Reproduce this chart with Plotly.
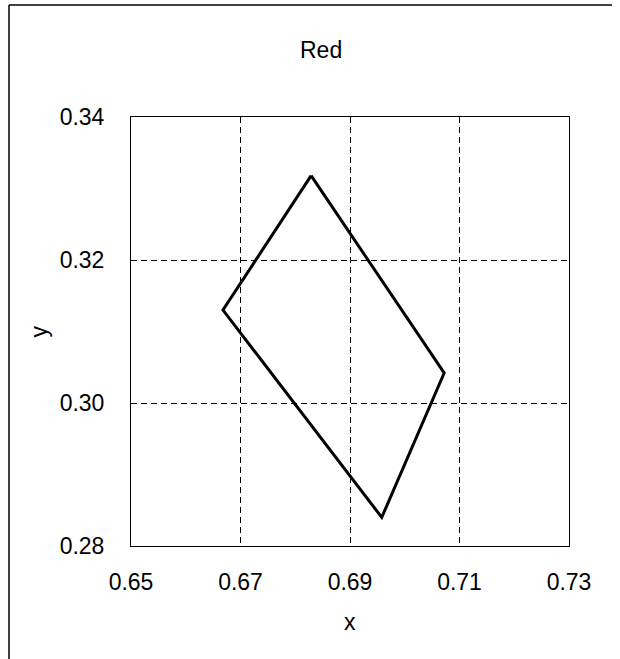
import plotly.graph_objects as go

# Data (vertices in drawing order: top, right, bottom, left, back to top)
poly_x = [0.6829, 0.7072, 0.6958, 0.6668, 0.6829]
poly_y = [0.3318, 0.3042, 0.2840, 0.3130, 0.3318]
x_ticks = [0.65, 0.67, 0.69, 0.71, 0.73]
y_ticks = [0.28, 0.30, 0.32, 0.34]
title_text = "Red"

W, H = 620, 659
L, R, T, B = 131, 51, 117, 113
pw, ph = W - L - R, H - T - B

def px(x):
    return (x - L) / pw

def py(y):
    return (H - B - y) / ph

fig = go.Figure()
fig.add_trace(go.Scatter(x=poly_x, y=poly_y, mode="lines",
                         line=dict(color="black", width=3), showlegend=False,
                         hoverinfo="skip"))

font = "Liberation Sans, Arial, sans-serif"
axis_common = dict(showgrid=True, gridcolor="black", gridwidth=1, griddash="6px,4px",
                   showline=True, linecolor="black", linewidth=1, mirror=True,
                   zeroline=False, ticks="outside",
                   tickcolor="rgba(0,0,0,0)",
                   tickfont=dict(family=font, size=23, color="black"))

fig.update_xaxes(range=[0.65, 0.73], tickvals=x_ticks, ticklen=15,
                 ticktext=[f"{v:.2f}" for v in x_ticks], **axis_common)
fig.update_yaxes(range=[0.28, 0.34], tickvals=y_ticks, ticklen=21,
                 ticktext=[f"{v:.2f}" for v in y_ticks], **axis_common)

fig.update_layout(
    width=W, height=H, margin=dict(l=L, r=R, t=T, b=B, autoexpand=False),
    plot_bgcolor="white", paper_bgcolor="white",
    annotations=[
        dict(text=title_text, x=px(321), y=py(50), xref="paper", yref="paper",
             xanchor="center", yanchor="middle",
             showarrow=False, font=dict(family=font, size=23, color="black")),
        dict(text="x", x=0.5, y=py(622), xref="paper", yref="paper",
             xanchor="center", yanchor="middle",
             showarrow=False, font=dict(family=font, size=23, color="black")),
        dict(text="y", x=px(38), y=0.5, xref="paper", yref="paper", textangle=-90,
             xanchor="center", yanchor="middle",
             showarrow=False, font=dict(family=font, size=23, color="black")),
    ],
    shapes=[
        dict(type="line", xref="paper", yref="paper", x0=px(9), x1=px(612),
             y0=py(5), y1=py(5), line=dict(color="black", width=1.5)),
        dict(type="line", xref="paper", yref="paper", x0=px(9), x1=px(9),
             y0=py(5), y1=py(H + 5), line=dict(color="black", width=1.5)),
    ],
)

fig.write_html("out.html")
